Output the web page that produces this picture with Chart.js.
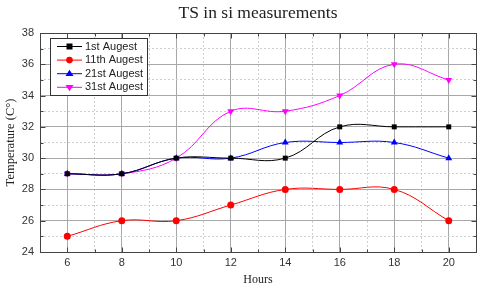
<!DOCTYPE html>
<html>
<head>
<meta charset="utf-8">
<script src="https://cdn.jsdelivr.net/npm/chart.js@4/dist/chart.umd.min.js"></script>
<style>
  html, body { margin: 0; padding: 0; background: #fff; }
  #wrap { width: 480px; height: 290px; }
</style>
</head>
<body>
<div id="wrap"><canvas id="tsChart" width="480" height="290"></canvas></div>
<script>
// data
const hours = [6, 8, 10, 12, 14, 16, 18, 20];
const aug1 = [29, 29, 30, 30, 30, 32, 32, 32];
const aug11 = [25, 26, 26, 27, 28, 28, 28, 26];
const aug21 = [29, 29, 30, 30, 31, 31, 31, 30];
const aug31 = [29, 29, 30, 33, 33, 34, 36, 35];
const seriesNames = ['1st Augest', '11th Augest', '21st Augest', '31st Augest'];
const xTickLabels = [6, 8, 10, 12, 14, 16, 18, 20];
const yTickLabels = [24, 26, 28, 30, 32, 34, 36, 38];
const chartTitle = 'TS in si measurements';

const sansFont = "'Liberation Sans', Arial, sans-serif";
const serifFont = "'Liberation Serif', 'Times New Roman', serif";

function toPoints(values) {
    return hours.map((h, i) => ({ x: h, y: values[i] }));
}

function makeSeries(label, values, color, style, rotation) {
    return {
        label: label,
        data: toPoints(values),
        borderColor: color,
        backgroundColor: color,
        borderWidth: 1,
        pointStyle: style,
        pointRotation: rotation,
        pointRadius: style === 'rect' ? 3.5 : (style === 'circle' ? 3.5 : 4),
        pointBorderWidth: 0,
        tension: 0.4
    };
}

// draw the marker shape by hand for the legend
function drawMarker(ctx, style, rotation, x, y, color) {
    ctx.save();
    ctx.fillStyle = color;
    ctx.beginPath();
    if (style === 'rect') {
        ctx.rect(x - 3, y - 3, 6, 6);
    } else if (style === 'circle') {
        ctx.arc(x, y, 3.3, 0, Math.PI * 2);
    } else {
        const r = 4;
        const dir = rotation === 180 ? -1 : 1;
        ctx.moveTo(x, y - dir * r);
        ctx.lineTo(x - r, y + dir * r * 0.6);
        ctx.lineTo(x + r, y + dir * r * 0.6);
        ctx.closePath();
    }
    ctx.fill();
    ctx.restore();
}

// title centred over the plot, plus frame with inward ticks
const framePlugin = {
    id: 'frame',
    afterDatasetsDraw(chart) {
        const { ctx, chartArea, scales } = chart;
        const l = Math.round(chartArea.left) + 0.5;
        const t = Math.round(chartArea.top) + 0.5;
        const r = Math.round(chartArea.right) + 0.5;
        const b = Math.round(chartArea.bottom) + 0.5;
        ctx.save();
        ctx.strokeStyle = '#444';
        ctx.lineWidth = 1;
        ctx.strokeRect(l, t, r - l, b - t);
        ctx.beginPath();
        for (let v = scales.x.min + 1; v < scales.x.max; v++) {
            const px = Math.round(scales.x.getPixelForValue(v)) + 0.5;
            const len = v % 2 === 0 ? 5 : 3;
            ctx.moveTo(px, t); ctx.lineTo(px, t + len);
            ctx.moveTo(px, b); ctx.lineTo(px, b - len);
        }
        for (let v = scales.y.min + 1; v < scales.y.max; v++) {
            const py = Math.round(scales.y.getPixelForValue(v)) + 0.5;
            const len = v % 2 === 0 ? 5 : 3;
            ctx.moveTo(l, py); ctx.lineTo(l + len, py);
            ctx.moveTo(r, py); ctx.lineTo(r - len, py);
        }
        ctx.stroke();
        ctx.restore();
    },
    afterDraw(chart) {
        const { ctx, chartArea } = chart;
        ctx.save();
        ctx.fillStyle = '#222';
        ctx.font = '17.5px ' + serifFont;
        ctx.textAlign = 'center';
        ctx.textBaseline = 'middle';
        ctx.fillText(chartTitle, (chartArea.left + chartArea.right) / 2, 13);
        ctx.restore();
    }
};

const boxLegendPlugin = {
    id: 'boxLegend',
    afterDraw(chart) {
        const { ctx, chartArea } = chart;
        const bx = chartArea.left + 10;
        const by = chartArea.top + 5;
        const bw = 97;
        const bh = 57;
        ctx.save();
        ctx.fillStyle = '#fff';
        ctx.fillRect(bx, by, bw, bh);
        ctx.strokeStyle = '#333';
        ctx.lineWidth = 1;
        ctx.strokeRect(bx + 0.5, by + 0.5, bw, bh);
        ctx.font = '11px ' + sansFont;
        ctx.textBaseline = 'middle';
        chart.data.datasets.forEach((ds, i) => {
            const y = by + 8.5 + i * 13.6;
            ctx.strokeStyle = ds.borderColor;
            ctx.beginPath();
            ctx.moveTo(bx + 7, y);
            ctx.lineTo(bx + 32, y);
            ctx.stroke();
            drawMarker(ctx, ds.pointStyle, ds.pointRotation, bx + 19.5, y, ds.borderColor);
            ctx.fillStyle = '#222';
            ctx.fillText(ds.label, bx + 35, y);
        });
        ctx.restore();
    }
};

function gridColor(ctx) {
    return ctx.tick && ctx.tick.value % 2 === 0 ? '#a8a8a8' : '#cfcfcf';
}
function gridDash(ctx) {
    return ctx.tick && ctx.tick.value % 2 === 0 ? [] : [2, 2];
}

new Chart(document.getElementById('tsChart'), {
    type: 'line',
    data: {
        datasets: [
            makeSeries(seriesNames[0], aug1, '#000000', 'rect', 0),
            makeSeries(seriesNames[1], aug11, '#ff0000', 'circle', 0),
            makeSeries(seriesNames[2], aug21, '#0000ff', 'triangle', 0),
            makeSeries(seriesNames[3], aug31, '#ff00ff', 'triangle', 180)
        ]
    },
    options: {
        responsive: false,
        animation: false,
        layout: { padding: { left: 0, right: 3, top: 33, bottom: 0 } },
        plugins: {
            legend: { display: false },
            tooltip: { enabled: false },
            title: { display: false }
        },
        scales: {
            x: {
                type: 'linear',
                min: 5,
                max: 21,
                afterFit: scale => { scale.height = 38; },
                ticks: {
                    stepSize: 1,
                    autoSkip: false,
                    maxRotation: 0,
                    padding: 4,
                    color: '#333',
                    font: { family: sansFont, size: 11 },
                    callback: v => xTickLabels.includes(v) ? String(v) : ''
                },
                grid: { color: gridColor, drawTicks: false },
                border: { display: false, dash: gridDash },
                title: {
                    display: true,
                    text: 'Hours',
                    color: '#222',
                    font: { family: serifFont, size: 12 },
                    padding: { top: 0, bottom: 3 }
                }
            },
            y: {
                min: 24,
                max: 38,
                afterFit: scale => { scale.width = 40; },
                ticks: {
                    stepSize: 1,
                    autoSkip: false,
                    padding: 6,
                    color: '#333',
                    font: { family: sansFont, size: 11 },
                    callback: v => yTickLabels.includes(v) ? String(v) : ''
                },
                grid: { color: gridColor, drawTicks: false },
                border: { display: false, dash: gridDash },
                title: {
                    display: true,
                    text: 'Temperature (C°)',
                    color: '#222',
                    font: { family: serifFont, size: 12.5 },
                    padding: { top: 3, bottom: 0 }
                }
            }
        }
    },
    plugins: [framePlugin, boxLegendPlugin]
});
</script>
</body>
</html>
